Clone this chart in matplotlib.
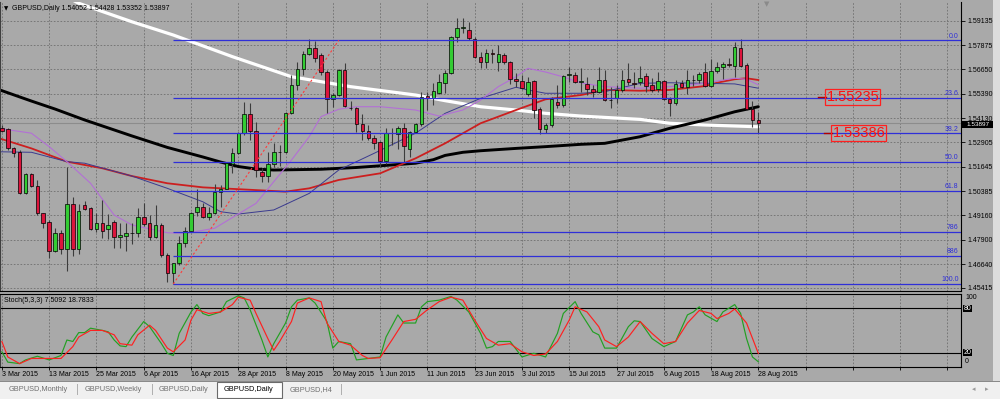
import matplotlib
matplotlib.use('Agg')
import matplotlib.pyplot as plt
from matplotlib.patches import Rectangle
from matplotlib.transforms import blended_transform_factory as btf
from matplotlib import font_manager as fm

plt.rcParams['font.family'] = ['Liberation Sans', 'DejaVu Sans']

# ---------------- data ----------------
opens = [1.5363, 1.5356, 1.5262, 1.5241, 1.5027, 1.5125, 1.5065, 1.4925, 1.4879, 1.4733,
         1.4825, 1.4743, 1.4973, 1.4743, 1.4968, 1.4951, 1.4846, 1.4877, 1.4843, 1.4882,
         1.4805, 1.4808, 1.4824, 1.4822, 1.4907, 1.4873, 1.4805, 1.4863, 1.4709, 1.4617,
         1.4668, 1.4774, 1.4836, 1.4929, 1.4956, 1.4904, 1.4925, 1.5034, 1.5051, 1.5178,
         1.5233, 1.5336, 1.5433, 1.5347, 1.5135, 1.5118, 1.5178, 1.5241, 1.5238, 1.5438,
         1.5583, 1.5664, 1.5741, 1.5772, 1.5737, 1.5650, 1.5510, 1.5532, 1.5659, 1.5467,
         1.5467, 1.5382, 1.5349, 1.5310, 1.5291, 1.5195, 1.5339, 1.5332, 1.5361, 1.5253,
         1.5344, 1.5382, 1.5527, 1.5515, 1.5544, 1.5595, 1.5644, 1.5828, 1.5878, 1.5866,
         1.5821, 1.5726, 1.5703, 1.5749, 1.5700, 1.5737, 1.5700, 1.5614, 1.5606, 1.5537,
         1.5606, 1.5460, 1.5356, 1.5378, 1.5496, 1.5482, 1.5635, 1.5635, 1.5600, 1.5589,
         1.5563, 1.5549, 1.5609, 1.5509, 1.5518, 1.5558, 1.5613, 1.5594, 1.5597, 1.5630,
         1.5583, 1.5563, 1.5604, 1.5510, 1.5490, 1.5592, 1.5572, 1.5609, 1.5609, 1.5652,
         1.5580, 1.5657, 1.5678, 1.5690, 1.5681, 1.5772, 1.5686, 1.5459, 1.54052]
highs = [1.5378, 1.5364, 1.5267, 1.5250, 1.5132, 1.5132, 1.5096, 1.4927, 1.4891, 1.4848,
         1.4839, 1.5164, 1.5007, 1.4973, 1.4988, 1.4959, 1.4925, 1.4993, 1.4920, 1.4891,
         1.4873, 1.4873, 1.4873, 1.4951, 1.4979, 1.4916, 1.4968, 1.4873, 1.4719, 1.4671,
         1.4808, 1.4856, 1.4930, 1.5051, 1.4976, 1.4959, 1.5075, 1.5070, 1.5185, 1.5259,
         1.5344, 1.5498, 1.5490, 1.5395, 1.5156, 1.5241, 1.5284, 1.5276, 1.5446, 1.5635,
         1.5703, 1.5760, 1.5818, 1.5811, 1.5746, 1.5660, 1.5541, 1.5664, 1.5695, 1.5503,
         1.5472, 1.5433, 1.5378, 1.5327, 1.5296, 1.5361, 1.5363, 1.5373, 1.5387, 1.5349,
         1.5387, 1.5549, 1.5549, 1.5592, 1.5640, 1.5661, 1.5835, 1.5926, 1.5926, 1.5908,
         1.5828, 1.5754, 1.5767, 1.5767, 1.5789, 1.5746, 1.5708, 1.5643, 1.5635, 1.5626,
         1.5609, 1.5472, 1.5387, 1.5520, 1.5583, 1.5635, 1.5674, 1.5652, 1.5672, 1.5626,
         1.5583, 1.5678, 1.5661, 1.5575, 1.5583, 1.5661, 1.5695, 1.5652, 1.5681, 1.5643,
         1.5618, 1.5652, 1.5609, 1.5523, 1.5609, 1.5609, 1.5661, 1.5635, 1.5652, 1.5695,
         1.5716, 1.5703, 1.5703, 1.5721, 1.5806, 1.5818, 1.5695, 1.5503, 1.54428]
lows = [1.5342, 1.5250, 1.5212, 1.5024, 1.5024, 1.5058, 1.4916, 1.4848, 1.4694, 1.4728,
        1.4716, 1.4630, 1.4706, 1.4716, 1.4942, 1.4839, 1.4829, 1.4797, 1.4795, 1.4747,
        1.4747, 1.4733, 1.4767, 1.4802, 1.4860, 1.4788, 1.4797, 1.4702, 1.4574, 1.4562,
        1.4660, 1.4754, 1.4834, 1.4911, 1.4899, 1.4891, 1.4921, 1.4959, 1.5048, 1.5130,
        1.5229, 1.5327, 1.5301, 1.5113, 1.5087, 1.5087, 1.5164, 1.5168, 1.5233, 1.5434,
        1.5558, 1.5635, 1.5737, 1.5703, 1.5635, 1.5441, 1.5469, 1.5527, 1.5469, 1.5455,
        1.5344, 1.5301, 1.5301, 1.5253, 1.5164, 1.5178, 1.5276, 1.5253, 1.5190, 1.5215,
        1.5336, 1.5373, 1.5455, 1.5481, 1.5537, 1.5541, 1.5640, 1.5806, 1.5849, 1.5814,
        1.5721, 1.5669, 1.5669, 1.5695, 1.5657, 1.5691, 1.5589, 1.5572, 1.5562, 1.5529,
        1.5413, 1.5332, 1.5336, 1.5370, 1.5464, 1.5472, 1.5600, 1.5592, 1.5549, 1.5532,
        1.5524, 1.5541, 1.5501, 1.5464, 1.5490, 1.5549, 1.5583, 1.5567, 1.5583, 1.5549,
        1.5549, 1.5549, 1.5506, 1.5424, 1.5481, 1.5567, 1.5537, 1.5578, 1.5592, 1.5575,
        1.5572, 1.5644, 1.5613, 1.5678, 1.5626, 1.5674, 1.5455, 1.5366, 1.53352]
closes = [1.5349, 1.5259, 1.5233, 1.5027, 1.5127, 1.5065, 1.4925, 1.4877, 1.4733, 1.4825,
          1.4743, 1.4973, 1.4743, 1.4938, 1.4949, 1.4846, 1.4877, 1.4836, 1.4866, 1.4805,
          1.4814, 1.4822, 1.4826, 1.4907, 1.4870, 1.4805, 1.4863, 1.4709, 1.4620, 1.4668,
          1.4774, 1.4836, 1.4928, 1.4956, 1.4904, 1.4925, 1.5036, 1.5051, 1.5182, 1.5233,
          1.5336, 1.5433, 1.5347, 1.5147, 1.5118, 1.5178, 1.5241, 1.5238, 1.5438, 1.5583,
          1.5664, 1.5741, 1.5772, 1.5724, 1.5650, 1.5510, 1.5534, 1.5659, 1.5477, 1.5464,
          1.5382, 1.5347, 1.5310, 1.5284, 1.5195, 1.5339, 1.5337, 1.5361, 1.5270, 1.5344,
          1.5382, 1.5523, 1.5515, 1.5553, 1.5597, 1.5644, 1.5828, 1.5874, 1.5880, 1.5823,
          1.5726, 1.5703, 1.5746, 1.5743, 1.5741, 1.5700, 1.5613, 1.5602, 1.5567, 1.5600,
          1.5455, 1.5356, 1.5378, 1.5512, 1.5482, 1.5631, 1.5638, 1.5600, 1.5602, 1.5563,
          1.5549, 1.5609, 1.5506, 1.5506, 1.5558, 1.5609, 1.5600, 1.5589, 1.5618, 1.5580,
          1.5558, 1.5604, 1.5510, 1.5490, 1.5587, 1.5572, 1.5609, 1.5611, 1.5638, 1.5580,
          1.5657, 1.5678, 1.5690, 1.5686, 1.5777, 1.5681, 1.5459, 1.5404, 1.53897]

date_labels = ["3 Mar 2015", "13 Mar 2015", "25 Mar 2015", "6 Apr 2015", "16 Apr 2015",
               "28 Apr 2015", "8 May 2015", "20 May 2015", "1 Jun 2015", "11 Jun 2015",
               "23 Jun 2015", "3 Jul 2015", "15 Jul 2015", "27 Jul 2015", "6 Aug 2015",
               "18 Aug 2015", "28 Aug 2015"]
price_ticks = [1.59135, 1.57875, 1.56650, 1.55390, 1.54130, 1.52905,
               1.51645, 1.50385, 1.49160, 1.47900, 1.46640, 1.45415]
price_tick_labels = ["1.59135", "1.57875", "1.56650", "1.55390", "1.54130", "1.52905",
                     "1.51645", "1.50385", "1.49160", "1.47900", "1.46640", "1.45415"]

# moving averages (bar index, price)
ma_white_idx = [11, 13, 22, 29, 39, 49, 59, 70, 75, 81, 87, 92, 98, 108, 113, 119, 124, 128]
ma_white_val = [1.6035, 1.6003, 1.5908, 1.5840, 1.5729, 1.5626, 1.5575, 1.5532, 1.5503, 1.5472,
                1.5455, 1.5438, 1.5424, 1.5407, 1.5387, 1.5378, 1.5373, 1.5369]
ma_black_idx = [-1, 5, 9, 14, 18, 22, 28, 34, 37, 40, 43, 46, 54, 60, 66, 70, 73, 75, 78, 81,
                87, 92, 98, 102, 108, 113, 119, 124, 128]
ma_black_val = [1.5565, 1.5501, 1.5460, 1.5404, 1.5363, 1.5322, 1.5263, 1.5214, 1.5188, 1.5165,
                1.5152, 1.5147, 1.5151, 1.5160, 1.5173, 1.5182, 1.5200, 1.5222, 1.5238, 1.5246,
                1.5258, 1.5267, 1.5279, 1.5284, 1.5318, 1.5361, 1.5404, 1.5446, 1.5472]
ma_red_idx = [-1, 5, 11, 17, 22, 28, 34, 43, 48, 52, 57, 64, 70, 75, 81, 87, 92, 98, 102, 108,
              113, 119, 121, 124, 126, 128]
ma_red_val = [1.5315, 1.5258, 1.5190, 1.5156, 1.5116, 1.5079, 1.5058, 1.5044, 1.5036, 1.5053,
              1.5096, 1.5130, 1.5207, 1.5284, 1.5387, 1.5455, 1.5510, 1.5532, 1.5558, 1.5554,
              1.5558, 1.5578, 1.5595, 1.5613, 1.5618, 1.5609]
ma_blue_idx = [-1, 5, 11, 14, 22, 28, 34, 37, 40, 46, 52, 57, 63, 70, 75, 81, 87, 89, 92, 98,
               102, 108, 113, 119, 124, 128]
ma_blue_val = [1.5241, 1.5238, 1.5190, 1.5182, 1.5116, 1.5053, 1.4984, 1.4933, 1.4921, 1.4942,
               1.5027, 1.5147, 1.5233, 1.5336, 1.5438, 1.5515, 1.5572, 1.5558, 1.5541, 1.5541,
               1.5549, 1.5592, 1.5595, 1.5592, 1.5589, 1.5567]
ma_violet_idx = [-1, 5, 8, 11, 15, 19, 22, 28, 31, 36, 43, 49, 52, 54, 57, 60, 64, 70, 74, 78,
                 81, 84, 87, 89, 92, 95, 98, 102, 108, 113, 119, 122, 124, 126, 128]
ma_violet_val = [1.5363, 1.5336, 1.5267, 1.5190, 1.5079, 1.4916, 1.4865, 1.4825, 1.4822, 1.4848,
                 1.4976, 1.5198, 1.5318, 1.5421, 1.5459, 1.5472, 1.5472, 1.5455, 1.5424, 1.5455,
                 1.5506, 1.5575, 1.5626, 1.5669, 1.5650, 1.5625, 1.5594, 1.5575, 1.5567, 1.5575,
                 1.5592, 1.5609, 1.5618, 1.5613, 1.5584]

# Fibonacci retracement
fib_low_bar, fib_low = 29, 1.4562
fib_high_bar, fib_high = 57, 1.5813
fib_ratios = [0.0, 0.236, 0.382, 0.5, 0.618, 0.786, 0.886, 1.0]
fib_labels = ["0.0", "23.6", "38.2", "50.0", "61.8", "786", "886", "100.0"]

# price labels on chart
mark_prices = [1.55235, 1.53386]
mark_texts = ["1.55235", "1.53386"]

# Stochastic (bar index, value)
stoch_k_idx = [0, 1, 3, 4, 6, 8, 10, 11, 12, 13, 14, 15, 17, 18, 19, 20, 21, 22, 24, 25, 27, 28,
               29, 30, 32, 33, 34, 35, 37, 38, 40, 41, 42, 44, 45, 46, 48, 49, 50, 52, 53, 55,
               56, 57, 59, 60, 62, 64, 65, 67, 68, 70, 71, 72, 74, 76, 77, 79, 81, 82, 83, 84,
               86, 88, 90, 92, 94, 95, 97, 98, 100, 101, 102, 104, 106, 107, 108, 110, 112, 114,
               116, 117, 118, 119, 121, 122, 124, 125, 126, 127, 128]
stoch_k_val = [21, 7, 5, 10, 15, 10, 16, 37, 35, 47, 47, 53, 50, 48, 37, 29, 28, 41, 62, 55, 32,
               19, 16, 46, 75, 85, 73, 70, 75, 89, 97, 94, 78, 37, 14, 32, 60, 82, 91, 94, 87,
               62, 26, 35, 32, 10, 12, 14, 41, 71, 60, 60, 82, 89, 91, 96, 91, 75, 46, 26, 28,
               35, 35, 14, 19, 14, 46, 73, 89, 73, 48, 44, 26, 26, 55, 63, 62, 39, 28, 35, 71,
               75, 82, 71, 62, 75, 85, 73, 39, 14, 7.5092]
stoch_d_idx = [0, 1, 3, 5, 8, 10, 12, 13, 15, 17, 19, 20, 22, 23, 25, 26, 28, 29, 31, 32, 33, 35,
               37, 39, 40, 42, 43, 45, 46, 47, 49, 50, 52, 54, 55, 57, 59, 61, 62, 64, 66, 68,
               70, 72, 74, 76, 78, 80, 82, 84, 86, 88, 90, 92, 94, 96, 97, 99, 101, 102, 104,
               106, 108, 110, 112, 114, 116, 118, 120, 121, 123, 124, 126, 128]
stoch_d_val = [35, 14, 5, 12, 12, 12, 28, 41, 50, 50, 44, 32, 30, 44, 57, 50, 26, 21, 37, 64, 78,
               73, 75, 85, 95, 91, 73, 39, 23, 35, 62, 87, 94, 89, 60, 35, 30, 16, 12, 13, 37,
               62, 65, 78, 89, 95, 91, 64, 39, 30, 32, 21, 16, 18, 35, 64, 82, 75, 55, 37, 28,
               41, 62, 46, 32, 35, 60, 77, 73, 66, 73, 79, 60, 18.7833]

tabs = ["GBPUSD,Monthly", "GBPUSD,Weekly", "GBPUSD,Daily", "GBPUSD,Daily", "GBPUSD,H4"]

# ---------------- layout helpers ----------------
W, H = 1000, 399
BG = '#a9a9a9'
GRID = '#6f6f6f'
FIBC = '#2f2fd8'
fig = plt.figure(figsize=(10, 3.99), dpi=100)
fig.patch.set_facecolor(BG)


def rect(x0, y0, x1, y1):
    return [x0 / W, 1 - y1 / H, (x1 - x0) / W, (y1 - y0) / H]


def ftext(x, y, s, **kw):
    return fig.text(x / W, 1 - y / H, s, **kw)


def frect(x0, y0, x1, y1, **kw):
    r = Rectangle((x0 / W, 1 - y1 / H), (x1 - x0) / W, (y1 - y0) / H,
                  transform=fig.transFigure, **kw)
    fig.patches.append(r)
    return r


def has_font(name):
    try:
        fm.findfont(fm.FontProperties(family=name), fallback_to_default=False)
        return True
    except Exception:
        return False


XL = (-0.32, 162.29)
YL = (1.45260, 1.60095)
n = len(opens)
idx = list(range(n))

# ---------------- main price panel ----------------
ax = fig.add_axes(rect(0, 2, 961, 291))
ax.set_facecolor(BG)
ax.set_xlim(*XL)
ax.set_ylim(*YL)
for k in range(0, 161, 8):
    ax.axvline(k, color=GRID, lw=0.6, ls=(0, (2, 2)), zorder=0)
for p in price_ticks:
    ax.axhline(p, color=GRID, lw=0.6, ls=(0, (2, 2)), zorder=0)

# bid line
ax.axhline(closes[-1], color='#8c8c8c', lw=0.8, zorder=1)

# moving averages
ax.plot(ma_white_idx, ma_white_val, color='white', lw=2.3, zorder=2, solid_capstyle='round',
        solid_joinstyle='round')
ax.plot(ma_black_idx, ma_black_val, color='black', lw=2.1, zorder=2, solid_capstyle='round',
        solid_joinstyle='round')
ax.plot(ma_red_idx, ma_red_val, color='#cc1f1f', lw=1.3, zorder=2, solid_joinstyle='round')
ax.plot(ma_blue_idx, ma_blue_val, color='#3b3b8f', lw=0.7, zorder=2)
ax.plot(ma_violet_idx, ma_violet_val, color='#b36fd6', lw=0.8, zorder=2)

# candles
ax.vlines(idx, lows, highs, color='#3c3c3c', lw=0.8, zorder=3)
bodies = [max(abs(c - o), 0.00006) for o, c in zip(opens, closes)]
bottoms = [min(o, c) for o, c in zip(opens, closes)]
cols = ['#33cc33' if c >= o else '#dc143c' for o, c in zip(opens, closes)]
ax.bar(idx, bodies, bottom=bottoms, width=0.6, color=cols, edgecolor='black',
       linewidth=0.5, zorder=4)

# fibonacci
rng = fib_high - fib_low
for r, lab in zip(fib_ratios, fib_labels):
    lvl = fib_high - r * rng
    ax.hlines(lvl, fib_low_bar, XL[1], color=FIBC, lw=0.9, zorder=5)
    ax.text(1 - 2.5 / 961, lvl + 0.0004, lab, transform=btf(ax.transAxes, ax.transData),
            ha='right', va='bottom', fontsize=5, color=FIBC, zorder=6)
ax.plot([fib_low_bar, fib_high_bar], [fib_low, fib_high], color='#ff3a3a',
        ls=(0, (2, 2)), lw=0.8, zorder=5)

# red price labels
if has_font('Liberation Sans Narrow'):
    lfam, lsize = ['Liberation Sans Narrow'], 12.5
else:
    lfam, lsize = ['Liberation Sans'], 10.5
label_x = [144.0, 145.0]
for px_, p, t in zip(label_x, mark_prices, mark_texts):
    ax.plot([px_ - 5.9, px_ - 4.6], [p, p], color='#b00000', lw=1.0, zorder=6)
    ax.text(px_, p, t, ha='center', va='center', fontsize=lsize, family=lfam,
            color='#ff1010', zorder=7,
            bbox=dict(boxstyle='square,pad=0.08', fc='none', ec='#ff2020', lw=0.9))

ax.spines['top'].set_visible(False)
ax.spines['left'].set_color('#404040')
ax.spines['left'].set_linewidth(0.8)
for s in ['right', 'bottom']:
    ax.spines[s].set_color('black')
    ax.spines[s].set_linewidth(0.8)
ax.set_xticks([])
ax.yaxis.tick_right()
ax.set_yticks(price_ticks)
ax.set_yticklabels(price_tick_labels)
ax.tick_params(axis='y', direction='out', length=3, width=0.6, pad=1.5,
               labelsize=5, colors='black')

# ---------------- stochastic panel ----------------
ax2 = fig.add_axes(rect(0, 293.5, 961, 367.3))
ax2.set_facecolor(BG)
ax2.set_xlim(*XL)
ax2.set_ylim(0, 100)
for k in range(0, 161, 8):
    ax2.axvline(k, color=GRID, lw=0.6, ls=(0, (2, 2)), zorder=0)
ax2.axhline(20, color='black', lw=0.8, zorder=1)
ax2.axhline(80, color='black', lw=0.8, zorder=1)
ax2.plot(stoch_k_idx, stoch_k_val, color='#22a022', lw=0.85, zorder=2)
ax2.plot(stoch_d_idx, stoch_d_val, color='#ff2020', lw=0.85, zorder=3)
ax2.spines['left'].set_color('#404040')
for s in ['right', 'bottom', 'top']:
    ax2.spines[s].set_color('black')
for s in ax2.spines.values():
    s.set_linewidth(0.8)
ax2.set_yticks([])
ax2.set_xticks(range(0, 161, 8))
ax2.set_xticklabels([])
ax2.tick_params(axis='x', direction='out', length=2, width=0.6)

tr = btf(ax2.transData, fig.transFigure)
for k, lab in zip(range(0, 8 * len(date_labels), 8), date_labels):
    ax2.text(k, 1 - 374 / H, lab, transform=tr, ha='left', va='center', fontsize=5,
             color='black', clip_on=False)

ftext(4, 300, 'Stoch(5,3,3) 7.5092 18.7833', fontsize=5, va='center', color='black')
ftext(965, 297.7, '100', fontsize=5, va='center')
ftext(965, 361.7, '0', fontsize=5, va='center')
for v, yy in [('80', 308.4), ('20', 352.3)]:
    frect(963, yy - 3.2, 972, yy + 3.2, fc='black', ec='none')
    ftext(967.5, yy, v, fontsize=5, va='center', ha='center', color='white')

# ---------------- header & price marker ----------------
ftext(4, 9, '\u25bc', fontsize=4, va='center', family=['DejaVu Sans'])
ftext(12.5, 9, 'GBPUSD,Daily 1.54052 1.54428 1.53352 1.53897', fontsize=5, va='center')
ftext(767, 4, '\u25bc', fontsize=5, va='center', ha='center', color='#8a8a8a',
      family=['DejaVu Sans'])
frect(962, 121.4, 993, 127.8, fc='black', ec='none')
ftext(977.5, 124.9, '1.53897', fontsize=4.6, va='center', ha='center', color='white')

# ---------------- window chrome ----------------
frect(993, 0, 1000, 382, fc='#dcdcdc', ec='none')
frect(992.6, 0, 993.2, 382, fc='#8a8a8a', ec='none')
frect(0, 381.5, 1000, 399, fc='#f0f0f0', ec='none')
frect(0, 381.2, 1000, 382.0, fc='#8a8a8a', ec='none')
frect(217, 382, 282, 398, fc='white', ec='#6a6a6a', lw=0.8)
tab_x = [9, 85, 159, 224, 290]
for i, (tx, t) in enumerate(zip(tab_x, tabs)):
    ftext(tx, 389.5, t, fontsize=5.3, va='center', color='black' if i == 3 else '#707070')
for sx in [77, 152, 341]:
    frect(sx, 384, sx + 0.7, 395, fc='#b0b0b0', ec='none')
ftext(974, 389.5, '\u25c2', fontsize=5, va='center', ha='center', color='#9a9a9a',
      family=['DejaVu Sans'])
ftext(987, 389.5, '\u25b8', fontsize=5, va='center', ha='center', color='#9a9a9a',
      family=['DejaVu Sans'])

fig.savefig('out.png', dpi=100, facecolor=fig.get_facecolor())
